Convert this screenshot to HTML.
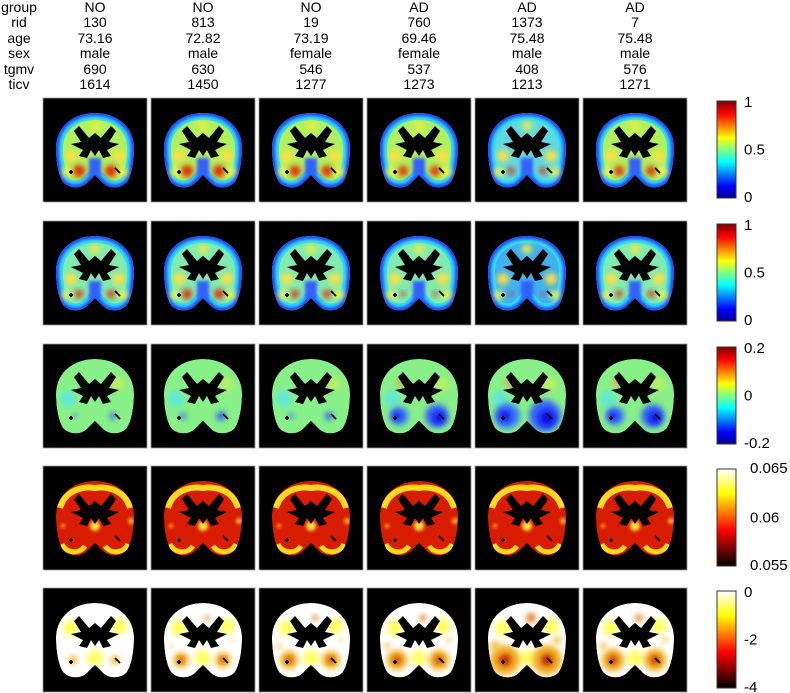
<!DOCTYPE html>
<html><head><meta charset="utf-8"><style>
html,body{margin:0;padding:0;background:#fff;}
svg{display:block;font-family:"Liberation Sans",sans-serif;}
</style></head><body>
<svg id="fig" width="790" height="693" viewBox="0 0 790 693">
<defs>
<path id="brainShape" d="M52,15 C74,15 91,29 91,50 C91,62 89,76 84,84 C78,91 66,91 60,85 L52,77 L44,85 C38,91 26,91 20,84 C15,76 13,62 13,50 C13,29 30,15 52,15 Z"/>
<clipPath id="brainClip"><use href="#brainShape"/></clipPath>
<filter id="blur" x="-50%" y="-50%" width="200%" height="200%"><feGaussianBlur stdDeviation="3"/></filter>
<filter id="blur2" x="-50%" y="-50%" width="200%" height="200%"><feGaussianBlur stdDeviation="1.5"/></filter>
<linearGradient id="jet" x1="0" y1="1" x2="0" y2="0">
<stop offset="0" stop-color="#00008f"/><stop offset="0.12" stop-color="#0000ff"/><stop offset="0.37" stop-color="#00ffff"/><stop offset="0.5" stop-color="#80ff80"/><stop offset="0.62" stop-color="#ffff00"/><stop offset="0.87" stop-color="#ff0000"/><stop offset="1" stop-color="#800000"/>
</linearGradient>
<linearGradient id="hot" x1="0" y1="1" x2="0" y2="0">
<stop offset="0" stop-color="#000000"/><stop offset="0.37" stop-color="#ff0000"/><stop offset="0.75" stop-color="#ffff00"/><stop offset="1" stop-color="#ffffff"/>
</linearGradient>
</defs>
</svg>
<script>
const svgNS="http://www.w3.org/2000/svg";
const fig=document.getElementById('fig');
const headerLabels=["group","rid","age","sex","tgmv","ticv"];
const groups=["NO","NO","NO","AD","AD","AD"];
const rids=["130","813","19","760","1373","7"];
const ages=["73.16","72.82","73.19","69.46","75.48","75.48"];
const sexes=["male","male","female","female","male","male"];
const tgmv=["690","630","546","537","408","576"];
const ticv=["1614","1450","1277","1273","1213","1271"];
const row1Red=[1,1,0.9,0.8,0.5,0.8];
const row2Red=[0.6,0.8,0.6,0.3,0.2,0.5];
const row3Blue=[0.1,0.2,0.15,0.7,1,0.7];
const row5Red=[0.1,0.4,0.5,0.6,1,0.7];
const cbTicks=[["1","0.5","0"],["1","0.5","0"],["0.2","0","-0.2"],["0.065","0.06","0.055"],["0","-2","-4"]];
const cbGrad=["jet","jet","jet","hot","hot"];
const colX=[43,151,259,367,475,583];
const rowY=[98,221,344,466,588];
const T=104;
function el(tag,attrs,parent){const e=document.createElementNS(svgNS,tag);for(const k in attrs)e.setAttribute(k,attrs[k]);(parent||fig).appendChild(e);return e;}
const rowsData=[groups,rids,ages,sexes,tgmv,ticv];
const hy=[12,27,43,58,74,89];
headerLabels.forEach((l,i)=>{
 const t=el('text',{x:19,y:hy[i],'text-anchor':'middle','font-size':14,fill:'#000'});
 
 
 t.textContent=l;
 rowsData[i].forEach((v,j)=>{
  const c=el('text',{x:colX[j]+T/2,y:hy[i],'text-anchor':'middle','font-size':14,fill:'#000'});
  
  
  c.textContent=v;
 });
});
function blob(g,x,y,r,c,f){el('circle',{cx:x,cy:y,r:r,fill:c,filter:'url(#'+(f||'blur')+')'},g);}
const vent="M36,28 L46,40 L52,35 L58,40 L68,28 L73,33 L66,44 L76,46 L64,52 L68,58 L60,60 L56,52 L52,58 L48,52 L44,60 L36,58 L40,52 L28,46 L38,44 L31,33 Z";
rowY.forEach((y,r)=>{
 colX.forEach((x,c)=>{
  const g=el('g',{transform:'translate('+x+','+y+')'});
  
  
  el('rect',{x:0,y:0,width:T,height:T,fill:'#000',stroke:'#999','stroke-width':0.8},g);
  const b=el('g',{'clip-path':'url(#brainClip)'},g);
  if(r===0||r===1){
   const v=r===0?row1Red[c]:row2Red[c];
   const base=r===0?(c===4?'#60d8e0':'#b0f060'):(c===4?'#40b0f0':'#80eab0');
   el('use',{href:'#brainShape',fill:base},b);
   el('use',{href:'#brainShape',fill:'none',stroke:'#30e0f0','stroke-width':14},b);
   el('use',{href:'#brainShape',fill:'none',stroke:'#2040ff','stroke-width':6,filter:'url(#blur2)'},b);
   blob(b,28,58,6,'#ffe040');blob(b,76,58,6,'#ffe040');
   blob(b,52,28,5,'#e8f040');blob(b,52,50,4,'#f0c040');
   el('rect',{x:46,y:60,width:12,height:18,fill:'#3060ff',filter:'url(#blur2)'},b);
   blob(b,36,73,5*v+1,'#e82000');blob(b,68,73,5*v+1,'#e82000');
   blob(b,24,74,5,'#f8f040');blob(b,80,74,5,'#f8f040');
  } else if(r===2){
   const v=row3Blue[c];
   el('use',{href:'#brainShape',fill:'#88f088'},b);
   blob(b,25,55,8,'#60e8d8');blob(b,75,40,7,'#b8f060');
   blob(b,70,72,14*v+2,'#3060ff');blob(b,32,72,12*v+1,'#3878ff');
   if(v>0.6){blob(b,72,74,8*v,'#1010e0');blob(b,30,72,6*v,'#1818e8');blob(b,34,38,4,'#f0a040');}
   blob(b,46,48,2.5,'#e06020','blur2');blob(b,58,48,2.5,'#e06020','blur2');
  } else if(r===3){
   el('use',{href:'#brainShape',fill:'#d81c00'},b);
   el('path',{d:"M17,42 C22,24 40,20 52,22 C64,20 82,24 87,42",fill:'none',stroke:'#ffd820','stroke-width':6},b);
   el('path',{d:"M19,78 C23,87 36,89 42,80 M62,80 C68,89 81,87 85,78",fill:'none',stroke:'#ffd820','stroke-width':5},b);
   blob(b,52,60,5,'#ffe040','blur2');blob(b,88,55,3,'#ffc020','blur2');blob(b,20,60,2,'#ffc020','blur2');
  } else {
   const v=row5Red[c];
   el('use',{href:'#brainShape',fill:'#ffffff'},b);
   blob(b,28,40,8,'#ffff60');blob(b,76,38,8,'#ffff60');blob(b,52,70,8,'#ffff60');
   blob(b,30,72,12*v+3,'#f0b020');blob(b,72,72,12*v+3,'#f0b020');
   blob(b,30,72,6*v,'#c02000');blob(b,72,72,6*v,'#c02000');
   if(v>0.3){blob(b,56,30,4*v+1,'#e08020');blob(b,20,58,5*v,'#f0c040');blob(b,82,52,4*v,'#f0c040');}
  }
  el('path',{d:vent,fill:'#000'},b);
  el('path',{d:"M26,74 l4,0 M28,72 l0,4 M72,70 l5,5",stroke:'#000','stroke-width':1.8},b);
 });
 const cy=y+3, ch=97;
 const cb=el('rect',{x:717,y:cy,width:19,height:ch,fill:'url(#'+cbGrad[r]+')',stroke:'#333','stroke-width':1});
 
 
 const ty=[cy+6,cy+ch/2+5,cy+ch+4];
 cbTicks[r].forEach((t,i)=>{
  const tx=el('text',{x:(r===3?750:744),y:ty[i]+(r===3&&i===0?-2:0),'font-size':15,fill:'#000'});
  
  
  tx.textContent=t;
 });
});
</script>
</body></html>
